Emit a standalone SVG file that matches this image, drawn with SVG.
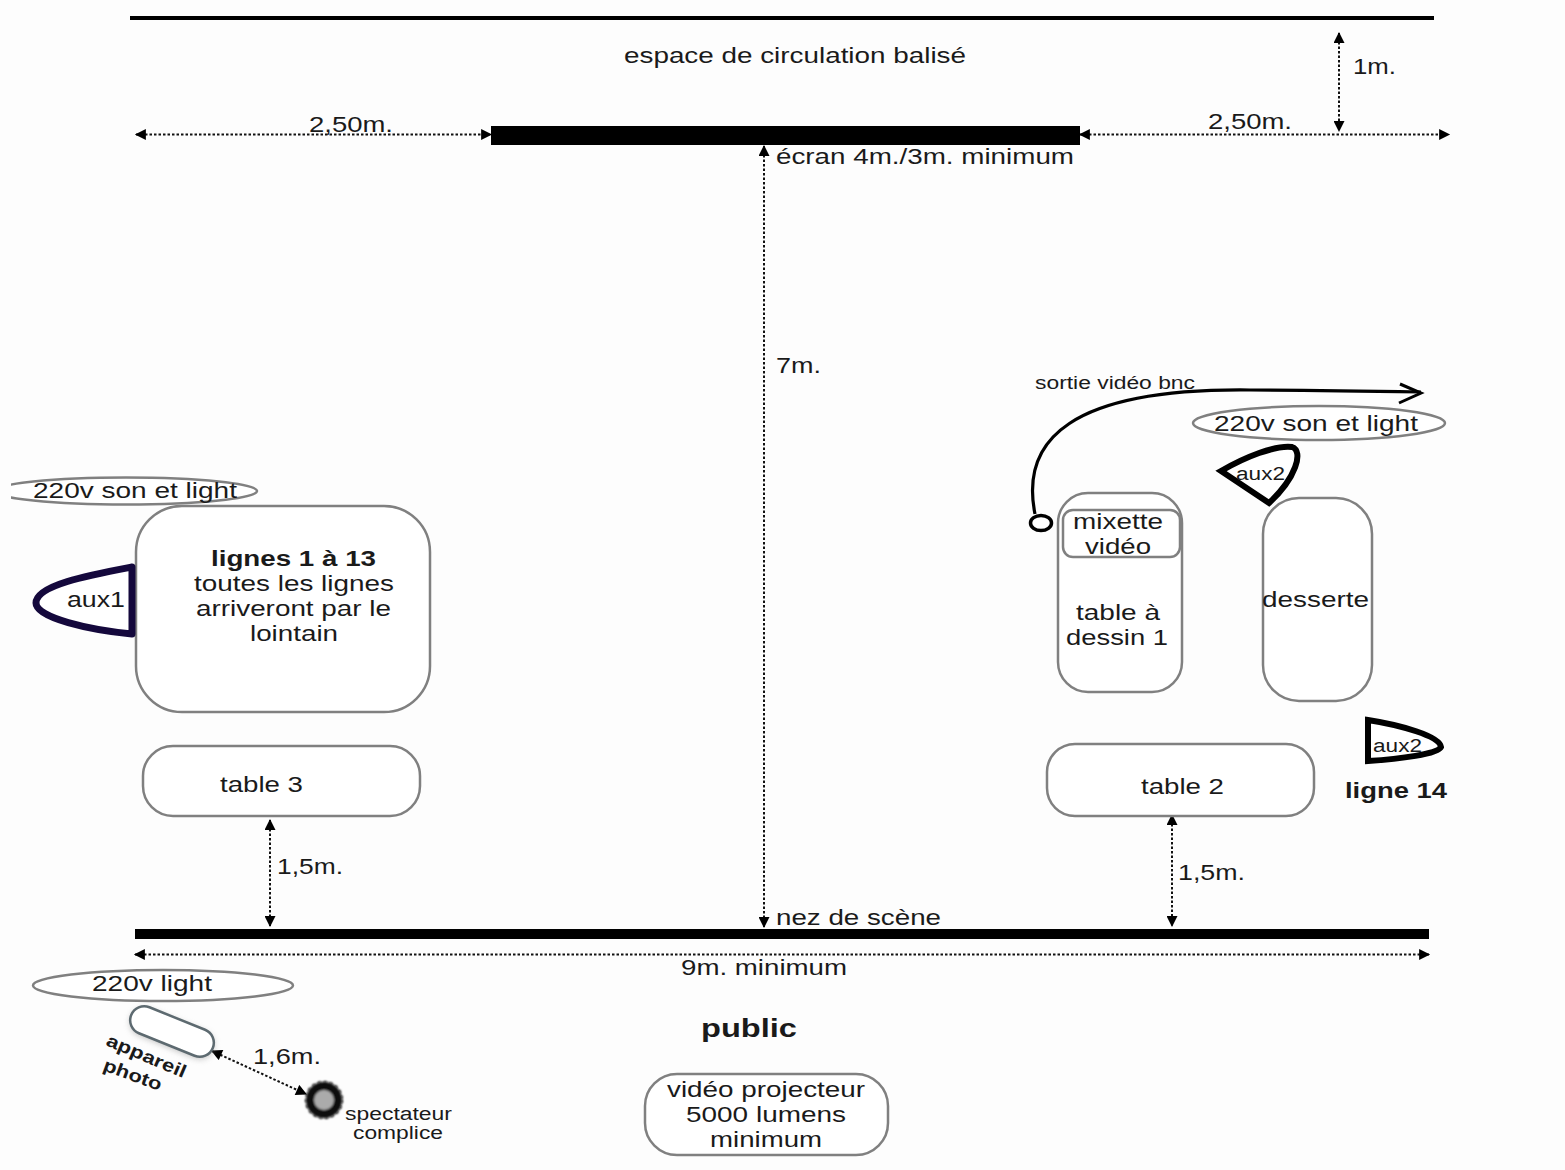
<svg xmlns="http://www.w3.org/2000/svg" width="1565" height="1170" viewBox="0 0 1565 1170">
<style>
text{font-family:"Liberation Sans",Arial,sans-serif;font-size:22px;fill:#1a1a1a}
.b{font-weight:bold}
.s{font-size:18px}
.n{fill:#fff;stroke:#808080;stroke-width:2.500}
.e{fill:#fff;stroke:#808080;stroke-width:2.500}
.d{fill:none;stroke:#111;stroke-width:2;stroke-dasharray:2.5 2}
.bar{fill:#000}
.aux{fill:#fff;stroke:#000;stroke-width:6}
</style>
<defs>
<marker id="a" viewBox="0 0 10 10" refX="9" refY="5" markerWidth="13" markerHeight="11" markerUnits="userSpaceOnUse" orient="auto-start-reverse"><path d="M0 0L10 5L0 10z" fill="#000"/></marker>
<filter id="sh" x="-30%" y="-30%" width="160%" height="160%"><feGaussianBlur stdDeviation="3"/></filter>
<filter id="bl" x="-30%" y="-30%" width="160%" height="160%"><feGaussianBlur stdDeviation="0.800"/></filter>
</defs>
<rect width="1565" height="1170" fill="#fdfdfd"/>
<g id="connectors">
<line class="d" x1="136" y1="134.500" x2="491" y2="134.500" marker-start="url(#a)" marker-end="url(#a)"/>
<line class="d" x1="1080" y1="134.500" x2="1449" y2="134.500" marker-start="url(#a)" marker-end="url(#a)"/>
<line class="d" x1="1339" y1="33" x2="1339" y2="131" marker-start="url(#a)" marker-end="url(#a)"/>
<line class="d" x1="764" y1="146" x2="764" y2="927" marker-start="url(#a)" marker-end="url(#a)"/>
<line class="d" x1="270" y1="820" x2="270" y2="926" marker-start="url(#a)" marker-end="url(#a)"/>
<line class="d" x1="1172" y1="815" x2="1172" y2="926" marker-start="url(#a)" marker-end="url(#a)"/>
<line class="d" x1="135" y1="954.500" x2="1429" y2="954.500" stroke-dasharray="4 3" marker-start="url(#a)" marker-end="url(#a)"/>
<line class="d" x1="212" y1="1051" x2="306" y2="1094" stroke-dasharray="4 3" marker-start="url(#a)" marker-end="url(#a)"/>
<path d="M1035 514C1020 440 1070 388 1250 390C1310 390 1370 391 1421 392" fill="none" stroke="#000" stroke-width="3.200"/>
<path d="M1400 384L1421 393L1399 403" fill="none" stroke="#000" stroke-width="3"/>
<ellipse cx="1041" cy="523" rx="10.500" ry="7.500" fill="#fff" stroke="#000" stroke-width="3.500"/>
</g>
<g id="bars">
<rect class="bar" x="130" y="16" width="1304" height="4"/>
<rect class="bar" x="491" y="126" width="589" height="19"/>
<rect class="bar" x="135" y="929" width="1294" height="10"/>
</g>
<g id="labels">
<text x="624" y="63" textLength="342" lengthAdjust="spacingAndGlyphs">espace de circulation balisé</text>
<text x="1353" y="74" textLength="43" lengthAdjust="spacingAndGlyphs">1m.</text>
<text x="309" y="132" textLength="84" lengthAdjust="spacingAndGlyphs">2,50m.</text>
<text x="1208" y="129" textLength="84" lengthAdjust="spacingAndGlyphs">2,50m.</text>
<text x="776" y="164" textLength="298" lengthAdjust="spacingAndGlyphs">écran 4m./3m. minimum</text>
<text x="776" y="373" textLength="45" lengthAdjust="spacingAndGlyphs">7m.</text>
<text class="s" x="1035" y="389" textLength="160" lengthAdjust="spacingAndGlyphs">sortie vidéo bnc</text>
<text x="277" y="874" textLength="66" lengthAdjust="spacingAndGlyphs">1,5m.</text>
<text x="1178" y="880" textLength="67" lengthAdjust="spacingAndGlyphs">1,5m.</text>
<text x="776" y="925" textLength="165" lengthAdjust="spacingAndGlyphs">nez de scène</text>
<text x="681" y="975" textLength="166" lengthAdjust="spacingAndGlyphs">9m. minimum</text>
<text class="b" x="701" y="1037" style="font-size:25px" textLength="96" lengthAdjust="spacingAndGlyphs">public</text>
<text x="253" y="1064" textLength="68" lengthAdjust="spacingAndGlyphs">1,6m.</text>
</g>
<g id="power-left">
<ellipse class="e" cx="126" cy="491" rx="131" ry="13.500"/>
<rect x="0" y="470" width="11" height="40" fill="#fdfdfd"/>
<text x="33" y="498" textLength="204" lengthAdjust="spacingAndGlyphs">220v son et light</text>
</g>
<g id="lignes">
<rect class="n" x="136" y="506" width="294" height="206" rx="46"/>
<text class="b" x="211" y="566" textLength="165" lengthAdjust="spacingAndGlyphs">lignes 1 à 13</text>
<text x="194" y="591" textLength="200" lengthAdjust="spacingAndGlyphs">toutes les lignes</text>
<text x="196" y="616" textLength="195" lengthAdjust="spacingAndGlyphs">arriveront par le</text>
<text x="250" y="641" textLength="88" lengthAdjust="spacingAndGlyphs">lointain</text>
</g>
<g id="aux1">
<path d="M132 567C90 575 36 585 36 603C36 618 90 630 132 634z" fill="#fff" stroke="#14083c" stroke-width="7" stroke-linejoin="round"/>
<text x="67" y="607" textLength="58" lengthAdjust="spacingAndGlyphs">aux1</text>
</g>
<g id="table3">
<rect class="n" x="143" y="746" width="277" height="70" rx="30"/>
<text x="220" y="792" textLength="83" lengthAdjust="spacingAndGlyphs">table 3</text>
</g>
<g id="power-right">
<ellipse class="e" cx="1319" cy="423" rx="126" ry="17"/>
<text x="1214" y="431" textLength="204" lengthAdjust="spacingAndGlyphs">220v son et light</text>
</g>
<g id="aux2-top">
<path d="M1221 471C1245 457 1275 445 1292 447C1304 451 1296 478 1269 503z" class="aux"/>
<text class="s" x="1236" y="480" textLength="49" lengthAdjust="spacingAndGlyphs">aux2</text>
</g>
<g id="table1">
<rect class="n" x="1058" y="493" width="124" height="199" rx="30"/>
<text x="1076" y="620" textLength="84" lengthAdjust="spacingAndGlyphs">table à</text>
<text x="1066" y="645" textLength="102" lengthAdjust="spacingAndGlyphs">dessin 1</text>
</g>
<g id="mixette">
<rect class="n" x="1063" y="510" width="117" height="47" rx="10"/>
<text x="1073" y="529" textLength="90" lengthAdjust="spacingAndGlyphs">mixette</text>
<text x="1085" y="554" textLength="66" lengthAdjust="spacingAndGlyphs">vidéo</text>
</g>
<g id="desserte">
<rect class="n" x="1263" y="498" width="109" height="203" rx="36"/>
<text x="1262" y="607" textLength="107" lengthAdjust="spacingAndGlyphs">desserte</text>
</g>
<g id="table2">
<rect class="n" x="1047" y="744" width="267" height="72" rx="28"/>
<text x="1141" y="794" textLength="83" lengthAdjust="spacingAndGlyphs">table 2</text>
</g>
<g id="aux2-bottom">
<path d="M1368 720C1400 725 1440 736 1441 747C1438 754 1400 759 1368 761z" class="aux"/>
<text class="s" x="1373" y="752" textLength="49" lengthAdjust="spacingAndGlyphs">aux2</text>
<text class="b" x="1345" y="798" textLength="102" lengthAdjust="spacingAndGlyphs">ligne 14</text>
</g>
<g id="power-light">
<ellipse class="e" cx="163" cy="985.500" rx="130" ry="15.500"/>
<text x="92" y="991" textLength="120" lengthAdjust="spacingAndGlyphs">220v light</text>
</g>
<g id="appareil">
<rect x="128" y="1019.500" width="88" height="28" rx="14" transform="rotate(22 172 1033.500)" fill="#888" opacity=".55" filter="url(#sh)"/>
<rect x="128" y="1017.500" width="88" height="28" rx="14" transform="rotate(22 172 1031.500)" fill="#fff" stroke="#5d6a70" stroke-width="2.500"/>
<text class="b s" transform="translate(105 1045) rotate(23)" textLength="85" lengthAdjust="spacingAndGlyphs">appareil</text>
<text class="b s" transform="translate(102 1070) rotate(20)" textLength="61" lengthAdjust="spacingAndGlyphs">photo</text>
</g>
<g id="spectateur">
<circle cx="324" cy="1100" r="14" fill="#ababab" stroke="#111" stroke-width="8" filter="url(#bl)"/>
<circle cx="324" cy="1100" r="18" fill="none" stroke="#111" stroke-width="2" stroke-dasharray="3 3" filter="url(#bl)"/>
<text class="s" x="345" y="1120" textLength="107" lengthAdjust="spacingAndGlyphs">spectateur</text>
<text class="s" x="353" y="1139" textLength="90" lengthAdjust="spacingAndGlyphs">complice</text>
</g>
<g id="projecteur">
<rect class="n" x="645" y="1074" width="243" height="81" rx="32"/>
<text x="667" y="1097" textLength="198" lengthAdjust="spacingAndGlyphs">vidéo projecteur</text>
<text x="686" y="1122" textLength="160" lengthAdjust="spacingAndGlyphs">5000 lumens</text>
<text x="710" y="1147" textLength="112" lengthAdjust="spacingAndGlyphs">minimum</text>
</g>
</svg>
